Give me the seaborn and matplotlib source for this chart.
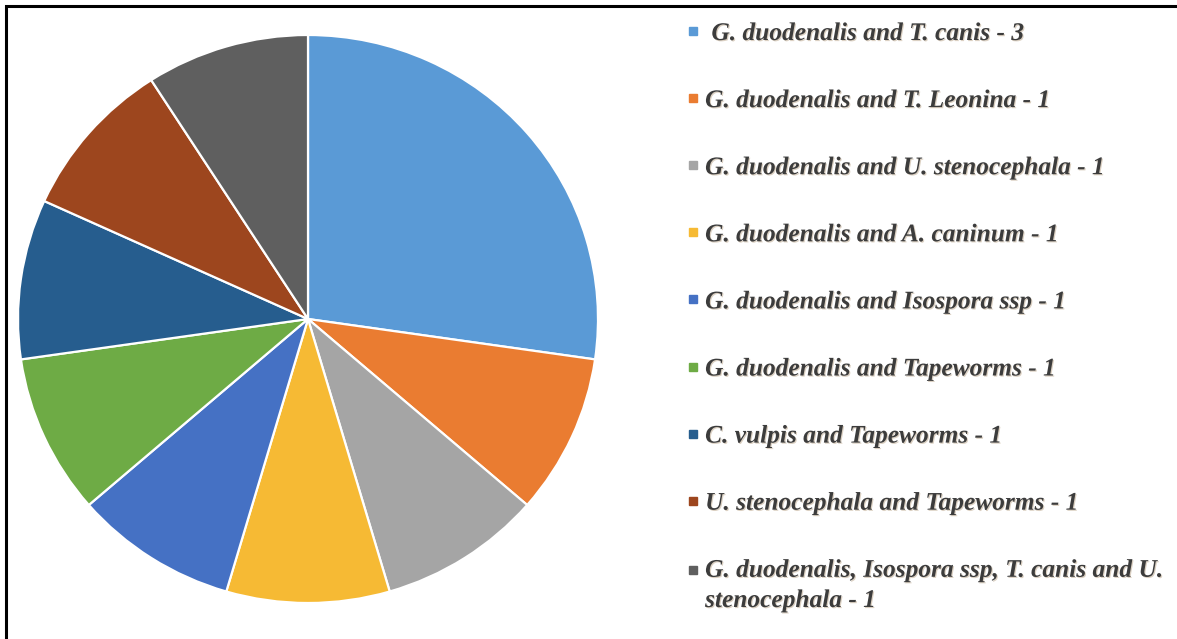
import matplotlib
matplotlib.use("Agg")
import matplotlib.pyplot as plt
import matplotlib.patheffects as pe
from matplotlib.lines import Line2D
from matplotlib.legend_handler import HandlerLine2D
from matplotlib.patches import Rectangle
import seaborn as sns

# Co-infection combinations and number of cases
labels = [
    " G. duodenalis and T. canis - 3",
    "G. duodenalis and T. Leonina - 1",
    "G. duodenalis and U. stenocephala - 1",
    "G. duodenalis and A. caninum - 1",
    "G. duodenalis and Isospora ssp - 1",
    "G. duodenalis and Tapeworms - 1",
    "C. vulpis and Tapeworms - 1",
    "U. stenocephala and Tapeworms - 1",
    "G. duodenalis, Isospora ssp, T. canis and U.\nstenocephala - 1",
]
counts = [3, 1, 1, 1, 1, 1, 1, 1, 1]
slice_colors = ["#5A9AD6", "#EA7C31", "#A5A5A5", "#F6BA34", "#4571C4",
                "#6EAB45", "#265D8E", "#9D461E", "#5F5F5F"]

sns.set_theme(style="white")
plt.rcParams["font.family"] = ["Liberation Serif", "DejaVu Serif"]
palette = sns.color_palette(slice_colors)

W, H = 1177, 639
FS = 18.3
LINESPACING = 1.40
fig = plt.figure(figsize=(W / 100, H / 100), dpi=100)
fig.patch.set_facecolor("white")

# pie area in pixel box x 18..598, y 35..603 (top-down)
ax = fig.add_axes([18 / W, (H - 603) / H, 580 / W, 568 / H])
wedges, _ = ax.pie(counts, colors=palette, startangle=90, counterclock=False,
                   wedgeprops=dict(edgecolor="white", linewidth=1.6))
ax.set_aspect("auto")
ax.set_xlim(-1, 1)
ax.set_ylim(-1, 1)
ax.axis("off")


class TopLineHandler(HandlerLine2D):
    """Places the marker level with the first line of a multi-line label."""

    def __init__(self, nlines, **kw):
        super().__init__(**kw)
        self.nlines = nlines

    def create_artists(self, legend, orig_handle, xdescent, ydescent,
                       width, height, fontsize, trans):
        artists = super().create_artists(legend, orig_handle, xdescent,
                                         ydescent, width, height, fontsize,
                                         trans)
        shift = (self.nlines - 1) * 0.5 * LINESPACING * fontsize * 0.86
        for a in artists:
            x, y = a.get_data()
            a.set_data(x, [v + shift for v in y])
        return artists


handles = [Line2D([], [], marker="s", linestyle="none", markersize=5.6,
                  markerfacecolor=c, markeredgecolor=c) for c in palette]
handler_map = {h: TopLineHandler(lab.count("\n") + 1)
               for h, lab in zip(handles, labels) if "\n" in lab}
leg = fig.legend(handles, labels, loc="upper left",
                 bbox_to_anchor=(686 / W, 1 - 22 / H),
                 frameon=False, handlelength=0.55, handletextpad=0.2,
                 borderpad=0, borderaxespad=0, labelspacing=1.735,
                 handler_map=handler_map,
                 prop=dict(family="Liberation Serif", weight="bold",
                           style="italic", size=FS))
for t in leg.get_texts():
    t.set_color("#3C3C3C")
    t.set_linespacing(LINESPACING)
    t.set_path_effects([pe.withSimplePatchShadow(offset=(0.8, -0.8),
                                                 shadow_rgbFace="#9A7A50",
                                                 alpha=0.35)])

# outer frame line (open at right and bottom)
fig.add_artist(Rectangle((6 / W, -0.1), 1.2, 1 - 6 / H + 0.1,
                         transform=fig.transFigure, fill=False,
                         edgecolor="black", linewidth=2.2))

fig.savefig("out.png", dpi=100)
